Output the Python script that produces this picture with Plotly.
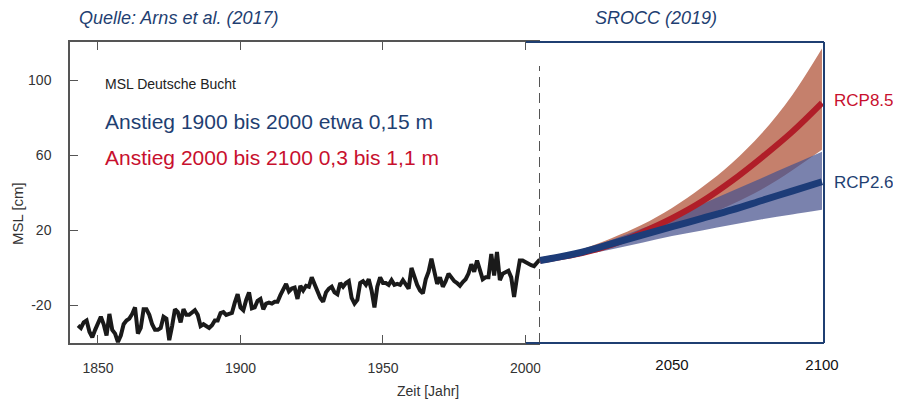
import plotly.graph_objects as go

# ---------------- data ----------------
years_obs = list(range(1843, 2006))
msl_obs = [
    -30.7, -32, -29, -28, -34, -37, -33,            # 1843-1849
    -29, -26, -30, -36, -24.5, -33, -35, -39.5, -36, -30,   # 1850-1859
    -28, -27, -24.5, -21, -35, -32, -22, -22, -25, -30,     # 1860-1869
    -33, -33, -32, -26, -27, -38.5, -31, -22, -23.5, -29,   # 1870-1879
    -22, -25, -25, -24, -22.5, -25, -31, -30, -31, -32,     # 1880-1889
    -30.5, -28, -28, -24, -23.5, -25, -24.5, -24, -18.5, -14,  # 1890-1899
    -21, -22.5, -17, -13, -21.5, -21, -17.5, -16.5, -22, -19,  # 1900-1909
    -18.5, -19, -18, -18, -14.5, -12, -8.5, -12.5, -11, -10.5, # 1910-1919
    -16.5, -9.5, -12, -9.5, -10, -5, -8.5, -12, -16, -18,      # 1920-1929
    -13, -11, -10, -13, -14, -8, -10, -8, -7, -16,             # 1930-1939
    -19, -17, -8, -7, -9, -6, -12, -21, -10, -5,               # 1940-1949
    -8, -8, -9, -6.5, -9, -8.5, -9, -6.5, -9, -11,             # 1950-1959
    0, -5, -9, -12, -13.5, -6, -2, 5, -3, -8.5,                # 1960-1969
    -5, -10, -7, -3, -5, -7, -8, -9.5, -7.5, -6,               # 1970-1979
    -3, 2, -2, 4, -1, -6, -5, -5, 7.5, -4,                     # 1980-1989
    8.5, -6.5, -3, -2, -1.5, -5, -15.5, -5, 4, 4,              # 1990-1999
    3, 2, 1.5, 1, 3, 4.5,                                      # 2000-2005
]

years_proj = [2006, 2020, 2030, 2040, 2050, 2060, 2070, 2080, 2090, 2100]
rcp85_med = [4, 8, 12.5, 19, 26.5, 35.5, 46.5, 59, 72.5, 88]
rcp85_hi = [4, 10, 16, 23, 32, 43, 56, 72, 92, 117]
rcp85_lo = [4, 8, 12, 16, 21, 27, 34, 42, 52, 63]
rcp26_med = [4, 8.5, 13, 17.5, 22, 26.5, 31, 36, 41, 46]
rcp26_hi = [4, 9.5, 15, 21, 27, 34, 41, 48, 55, 62]
rcp26_lo = [4, 7, 10, 13.5, 17, 20, 23, 26, 28.5, 31]

boundary_year = 2005
y_ticks = [-20, 20, 60, 100]
y_ticktext = ["-20", "20", "60", "100"]
x_ticks_left = [1850, 1900, 1950, 2000]
x_ticks_right = [2050, 2100]

# ---------------- styling ----------------
FONT = "Liberation Sans, Arial, sans-serif"
NAVY = "#1f3f72"
RED = "#c8102e"
FRAME = "#555555"

OFF = 8                      # page body margin
W, H = 901 - OFF, 402 - OFF
L, R, T, B = 62, 77, 34, 59
PW, PH = W - L - R, H - T - B


def px(x):
    return (x - OFF - L) / PW


def py(y):
    return (H - B - (y - OFF)) / PH


fig = go.Figure()

# observed series
fig.add_trace(go.Scatter(x=years_obs, y=msl_obs, mode="lines",
                         line=dict(color="#1a1a1a", width=4),
                         xaxis="x", yaxis="y", hoverinfo="skip", showlegend=False))


def band(lo, hi, color):
    fig.add_trace(go.Scatter(x=years_proj, y=lo, mode="lines", line=dict(width=0, shape="spline"),
                             xaxis="x2", yaxis="y", showlegend=False, hoverinfo="skip"))
    fig.add_trace(go.Scatter(x=years_proj, y=hi, mode="lines", line=dict(width=0, shape="spline"),
                             fill="tonexty", fillcolor=color,
                             xaxis="x2", yaxis="y", showlegend=False, hoverinfo="skip"))


band(rcp85_lo, rcp85_hi, "rgb(197,128,108)")
band(rcp26_lo, rcp26_hi, "rgba(70,82,142,0.72)")

# medians
fig.add_trace(go.Scatter(x=years_proj, y=rcp85_med, mode="lines", line=dict(color="#b01e28", width=6, shape="spline"),
                         xaxis="x2", yaxis="y", showlegend=False, hoverinfo="skip"))
fig.add_trace(go.Scatter(x=years_proj, y=rcp26_med, mode="lines", line=dict(color="#1d3c78", width=7, shape="spline"),
                         xaxis="x2", yaxis="y", showlegend=False, hoverinfo="skip"))

split = px(526)

fig.update_layout(
    width=W, height=H,
    margin=dict(l=L, r=R, t=T, b=B),
    paper_bgcolor="white", plot_bgcolor="rgba(0,0,0,0)",
    font=dict(family=FONT, color="#333"),
    showlegend=False,
    xaxis=dict(domain=[0, px(540)], range=[1840.18, 2005.09], anchor="y",
               tickvals=x_ticks_left, ticks="inside", ticklen=8, tickwidth=1.3, tickcolor=FRAME,
               showline=True, linecolor=FRAME, linewidth=1.5, mirror="ticks",
               showgrid=False, zeroline=False, ticklabelstandoff=11,
               tickfont=dict(size=14, color="#333", family=FONT)),
    xaxis2=dict(domain=[split, 1], range=[2001.33, 2100.67], anchor="y",
                tickvals=x_ticks_right, ticks="", showline=False, showgrid=False, zeroline=False,
                ticklabelstandoff=11, tickfont=dict(size=15, color="#111", family=FONT)),
    yaxis=dict(domain=[0, 1], range=[-40, 120.5], anchor="x",
               tickvals=y_ticks, ticktext=y_ticktext, ticks="inside", ticklen=8, tickwidth=1.3,
               tickcolor=FRAME, showline=True, linecolor=FRAME, linewidth=1.5,
               showgrid=False, zeroline=False, ticklabelstandoff=14,
               tickfont=dict(size=14, color="#333", family=FONT)),
)

shapes = [
    # white mask that clips the "2000" label where the second panel starts
    dict(type="rect", xref="paper", yref="paper", x0=px(540.5), x1=px(565), y0=py(346), y1=py(385),
         fillcolor="white", line=dict(width=0), layer="above"),
    # right panel frame (no left side)
    dict(type="line", xref="paper", yref="paper", x0=split, x1=1, y0=1, y1=1,
         line=dict(color=NAVY, width=2), layer="above"),
    dict(type="line", xref="paper", yref="paper", x0=split, x1=1, y0=0, y1=0,
         line=dict(color=NAVY, width=2), layer="above"),
    dict(type="line", xref="paper", yref="paper", x0=1, x1=1, y0=0, y1=1,
         line=dict(color=NAVY, width=2), layer="above"),
    # dashed separator
    dict(type="line", xref="x", yref="paper", x0=boundary_year, x1=boundary_year, y0=0, y1=py(66),
         line=dict(color="#444", width=1.3, dash="10px,6px"), layer="above"),
]
fig.update_layout(shapes=shapes)

ann = [
    dict(text="<i>Quelle: Arns et al. (2017)</i>", x=px(77), y=py(18), xanchor="left", yanchor="middle",
         font=dict(size=18, color=NAVY)),
    dict(text="<i>SROCC (2019)</i>", x=px(656), y=py(18), xanchor="center", yanchor="middle",
         font=dict(size=18, color=NAVY)),
    dict(text="MSL Deutsche Bucht", x=px(103), y=py(84), xanchor="left", yanchor="middle",
         font=dict(size=14, color="#222")),
    dict(text="Anstieg 1900 bis 2000 etwa 0,15 m", x=px(103), y=py(121), xanchor="left", yanchor="middle",
         font=dict(size=21, color=NAVY)),
    dict(text="Anstieg 2000 bis 2100 0,3 bis 1,1 m", x=px(103), y=py(157), xanchor="left", yanchor="middle",
         font=dict(size=21, color=RED)),
    dict(text="RCP8.5", x=px(832), y=py(100), xanchor="left", yanchor="middle",
         font=dict(size=17, color=RED)),
    dict(text="RCP2.6", x=px(832), y=py(182), xanchor="left", yanchor="middle",
         font=dict(size=17, color=NAVY)),
    dict(text="MSL [cm]", x=px(17), y=py(214), xanchor="center", yanchor="middle", textangle=-90,
         font=dict(size=15, color="#333")),
    dict(text="Zeit [Jahr]", x=px(428), y=py(391), xanchor="center", yanchor="middle",
         font=dict(size=14, color="#333")),
]
for a in ann:
    a.update(xref="paper", yref="paper", showarrow=False)
fig.update_layout(annotations=ann)

fig.write_html("out.html")
